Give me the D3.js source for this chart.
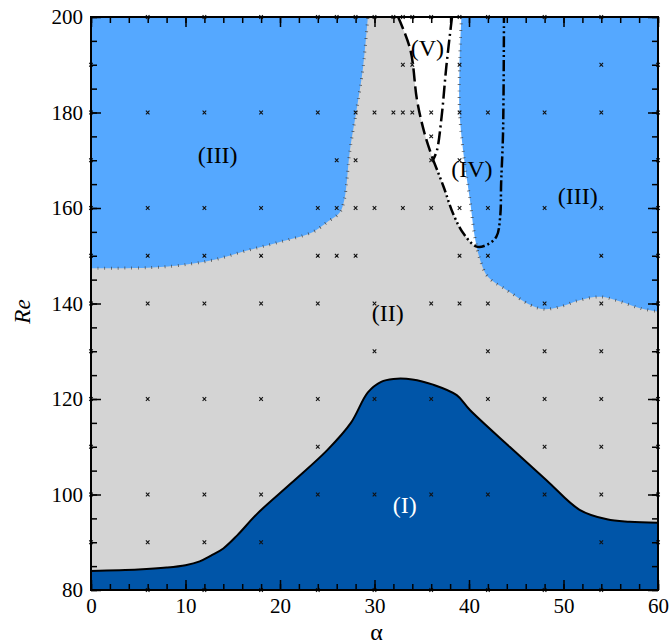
<!DOCTYPE html>
<html>
<head>
<meta charset="utf-8">
<script src="https://cdn.jsdelivr.net/npm/d3@7"></script>
<style>
  body { margin: 0; background: #fff; }
  text { font-family: "Liberation Serif", "DejaVu Serif", serif; }
</style>
</head>
<body>
<div id="chart"></div>
<script>
// boundary curves, [alpha, Re]
const regionIEdge = [[0, 84], [5, 84.3], [8, 84.7], [10, 85.2], [11.5, 86], [12.7, 87.2], [14, 88.7],
    [15.5, 91.5], [17.6, 96], [21.2, 102.4], [25, 109.3], [27.5, 115], [29.3, 121.4], [30.7, 123.6],
    [32, 124.2], [34, 124.1], [36.2, 123], [38.7, 120.8], [40.1, 117.7], [44.3, 110], [48.2, 103],
    [51.7, 96.8], [54.6, 94.8], [57, 94.3], [60, 94.1]];

const regionIIILeftEdge = [[0, 147.4], [6, 147.5], [9.4, 148], [12.9, 149.1], [16.5, 151.1], [20, 152.9],
    [23.5, 155], [25.1, 157.2], [26.3, 159], [26.8, 161.7], [27.4, 172.1], [28.1, 180.5], [28.8, 189.6],
    [29.3, 200]];

const regionIIIRightEdge = [[39.2, 200], [39.0, 190], [39.0, 180], [39.5, 170], [40.1, 161.7], [40.7, 153],
    [41.3, 148.4], [42, 145.6], [44, 142.8], [46.5, 139.7], [47.9, 138.8], [49.6, 139.3], [51.7, 140.7],
    [53.9, 141.4], [56, 140.4], [58.1, 139], [60, 138.3]];

const vLeftCurve = [[32.5, 200], [33.8, 193.1], [34.5, 182.6], [35.3, 175.6], [36.2, 170.1]];
const vRightCurve = [[38.2, 200], [37.6, 189.6], [37.1, 179.1], [36.6, 172], [36.2, 170.1]];
const ivCurve = [[36.2, 170.1], [37.3, 164.5], [38.3, 158.9], [39.4, 154.7], [40.8, 151.9], [41.9, 152.3],
    [42.9, 154], [43.3, 158.2], [43.4, 165.2], [43.6, 175.6], [43.7, 200]];

// simulation points
const markerRe = [200, 190, 180, 175, 170, 160, 150, 140, 130, 120, 110, 100, 90, 80];
const markerAlphas = [
    [6, 12, 18, 24, 26, 28, 30, 32, 33, 34, 36, 39, 42, 48, 54],
    [0, 33, 34, 39, 54, 60],
    [0, 6, 12, 18, 24, 28, 30, 32, 33, 34, 36, 39, 42, 48, 54, 60],
    [36],
    [0, 26, 28, 36, 39, 60],
    [0, 6, 12, 18, 24, 26, 28, 30, 33, 36, 39, 42, 48, 54, 60],
    [0, 6, 12, 18, 24, 26, 28, 39, 42, 54, 60],
    [0, 6, 12, 18, 24, 30, 36, 39, 42, 48, 54, 60],
    [0, 30, 42, 48, 54, 60],
    [0, 6, 12, 18, 24, 30, 36, 42, 48, 54, 60],
    [0, 24, 48, 54, 60],
    [0, 6, 12, 18, 24, 30, 36, 42, 48, 54, 60],
    [0, 6, 12, 18, 54, 60],
    [6, 12, 18, 24, 30, 36, 42, 48, 54]
];

const regionNames = ["(I)", "(II)", "(III)", "(III)", "(IV)", "(V)"];
const regionAlpha = [33.2, 31.4, 13.4, 51.5, 40.3, 35.6];
const regionRe = [97.8, 138, 171.1, 162.7, 168.2, 193.5];

const xTickLabels = [0, 10, 20, 30, 40, 50, 60];
const yTickLabels = [80, 100, 120, 140, 160, 180, 200];

const width = 670;
const height = 644;
const ml = 91, mr = 12, mt = 17, mb = 54;
const w = width - ml - mr;
const h = height - mt - mb;

const cGray = "#d4d4d4";
const cLight = "#55a8ff";
const cDark = "#0055a8";

const x = d3.scaleLinear().domain([0, 60]).range([0, w]);
const y = d3.scaleLinear().domain([80, 200]).range([h, 0]);

const svg = d3.select("#chart").append("svg")
    .attr("width", width)
    .attr("height", height);

svg.append("defs").append("clipPath").attr("id", "plotClip")
    .append("rect").attr("width", w).attr("height", h);

const g = svg.append("g").attr("transform", `translate(${ml},${mt})`);
const plot = g.append("g").attr("clip-path", "url(#plotClip)");

const smooth = d3.line().x(d => x(d[0])).y(d => y(d[1])).curve(d3.curveCatmullRom.alpha(0.5));

// region II background
plot.append("rect").attr("width", w).attr("height", h).attr("fill", cGray);

// regions IV / V (white)
plot.append("path")
    .attr("d", smooth(vLeftCurve.concat(ivCurve.slice(1))) + "Z")
    .attr("fill", "#fff");

// region III left and right
plot.append("path")
    .attr("d", smooth(regionIIILeftEdge) + `L${x(0)},${y(200)}Z`)
    .attr("fill", cLight);

plot.append("path")
    .attr("d", smooth(regionIIIRightEdge) + `L${x(60)},${y(200)}Z`)
    .attr("fill", cLight);

// region I
plot.append("path")
    .datum(regionIEdge)
    .attr("d", d3.area().x(d => x(d[0])).y0(h).y1(d => y(d[1])).curve(d3.curveCatmullRom.alpha(0.5)))
    .attr("fill", cDark);

// little hatch ticks along region III edges
[regionIIILeftEdge, regionIIIRightEdge].forEach(edge => {
    plot.append("path")
        .attr("d", smooth(edge))
        .attr("fill", "none")
        .attr("stroke", "#444")
        .attr("stroke-width", 3)
        .attr("stroke-dasharray", "0.7 6");
});

// dashed boundaries of IV and V
const dashed = [
    [vLeftCurve, "13 5"],
    [vRightCurve, "13 4 2 4"],
    [ivCurve, "11 3 2 3 2 3"]
];
dashed.forEach(([pts, dash]) => {
    plot.append("path")
        .attr("d", smooth(pts))
        .attr("fill", "none")
        .attr("stroke", "#000")
        .attr("stroke-width", 2.5)
        .attr("stroke-dasharray", dash);
});

// region I edge
plot.append("path")
    .attr("d", smooth(regionIEdge))
    .attr("fill", "none")
    .attr("stroke", "#000")
    .attr("stroke-width", 2);

// simulation markers
const markers = markerRe.flatMap((re, i) => markerAlphas[i].map(a => [a, re]));
g.selectAll("path.marker")
    .data(markers)
    .enter()
    .append("path")
    .attr("class", "marker")
    .attr("d", d3.symbol(d3.symbolTimes, 10))
    .attr("transform", d => `translate(${x(d[0])},${y(d[1])})`)
    .attr("fill", "none")
    .attr("stroke", "#111")
    .attr("stroke-width", 1.1);

// region labels
g.selectAll("text.regionLabel")
    .data(regionNames)
    .enter()
    .append("text")
    .attr("class", "regionLabel")
    .attr("x", (d, i) => x(regionAlpha[i]))
    .attr("y", (d, i) => y(regionRe[i]))
    .attr("dy", "0.35em")
    .attr("text-anchor", "middle")
    .attr("fill", (d, i) => i === 0 ? "#fff" : "#000")
    .style("font-size", "24px")
    .text(d => d);

// axes, ticks inward on all four sides
function styleAxis(sel) {
    sel.select(".domain").remove();
    sel.selectAll("line").attr("stroke", "#000").attr("stroke-width", 1.5);
    sel.selectAll("text").style("font-size", "21px").attr("fill", "#000")
        .style("font-family", "'Liberation Serif', serif");
}

const xMinor = d3.range(0, 61, 2);
const yMinor = d3.range(80, 201, 5);

g.append("g").attr("transform", `translate(0,${h})`)
    .call(d3.axisBottom(x).tickValues(xMinor).tickSize(-6).tickFormat(""))
    .call(styleAxis);
g.append("g").attr("transform", `translate(0,${h})`)
    .call(d3.axisBottom(x).tickValues(xTickLabels).tickSizeInner(-10).tickSizeOuter(0).tickPadding(8).tickFormat(d3.format("d")))
    .call(styleAxis);
g.append("g")
    .call(d3.axisTop(x).tickValues(xMinor).tickSize(-6).tickFormat(""))
    .call(styleAxis);
g.append("g")
    .call(d3.axisTop(x).tickValues(xTickLabels).tickSize(-10).tickFormat(""))
    .call(styleAxis);

g.append("g")
    .call(d3.axisLeft(y).tickValues(yMinor).tickSize(-6).tickFormat(""))
    .call(styleAxis);
g.append("g")
    .call(d3.axisLeft(y).tickValues(yTickLabels).tickSizeInner(-10).tickSizeOuter(0).tickPadding(8).tickFormat(d3.format("d")))
    .call(styleAxis);
g.append("g").attr("transform", `translate(${w},0)`)
    .call(d3.axisRight(y).tickValues(yMinor).tickSize(-6).tickFormat(""))
    .call(styleAxis);
g.append("g").attr("transform", `translate(${w},0)`)
    .call(d3.axisRight(y).tickValues(yTickLabels).tickSize(-10).tickFormat(""))
    .call(styleAxis);

g.append("rect")
    .attr("width", w)
    .attr("height", h)
    .attr("fill", "none")
    .attr("stroke", "#000")
    .attr("stroke-width", 2);

// axis titles
svg.append("text")
    .attr("x", ml + w / 2 + 2)
    .attr("y", 640)
    .attr("text-anchor", "middle")
    .style("font-size", "24px")
    .text("α");

svg.append("text")
    .attr("transform", `translate(30,${mt + h / 2 + 8}) rotate(-90)`)
    .attr("text-anchor", "middle")
    .style("font-size", "23px")
    .style("font-style", "italic")
    .text("Re");
</script>
</body>
</html>
